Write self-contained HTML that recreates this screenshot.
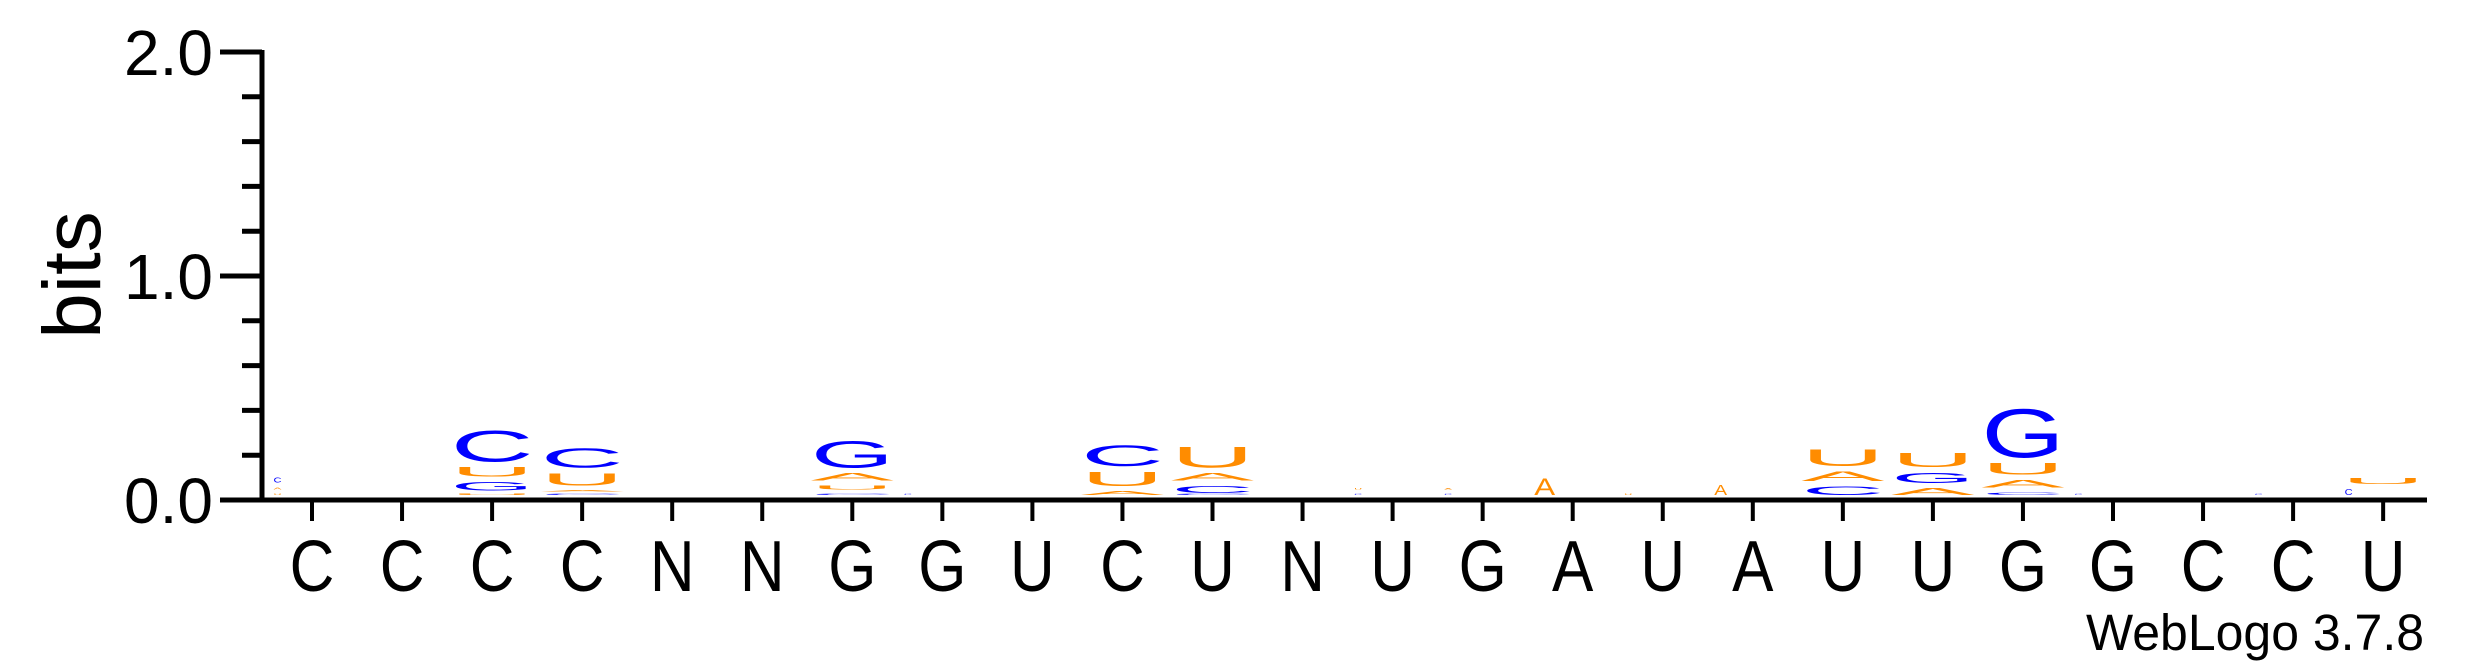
<!DOCTYPE html>
<html><head><meta charset="utf-8"><style>
html,body{margin:0;padding:0;background:#fff;}
svg{display:block;font-family:"Liberation Sans",sans-serif;}
</style></head><body>
<svg id="logo" width="2475" height="667" viewBox="0 0 2475 667" xmlns="http://www.w3.org/2000/svg">
<g id="axes"></g>
<g id="stacks"></g>
<text transform="translate(100,275) rotate(-90)" font-size="82" text-anchor="middle">bits</text>
<text x="2424" y="650" font-size="51" text-anchor="end" textLength="338" lengthAdjust="spacingAndGlyphs">WebLogo 3.7.8</text>
</svg>
<script>
const positions = ["C","C","C","C","N","N","G","G","U","C","U","N","U","G","A","U","A","U","U","G","G","C","C","U"];
// each stack bottom->top
const stackLetters = [
 ["U","A","C"],[],["U","G","U","C"],["C","A","U","C"],[],[],["C","U","A","G"],["C"],[],
 ["A","U","C"],["C","C","A","U"],[],["C","U"],["C","A"],["A"],["U"],["A"],
 ["C","A","U"],["A","G","U"],["C","A","U","G"],["C"],[],["C"],["C","U"]
];
const stackBits = [
 [0.025,0.03,0.045],[],[0.02,0.062,0.067,0.165],[0.015,0.027,0.08,0.11],[],[],[0.025,0.04,0.058,0.143],[0.02],[],
 [0.04,0.089,0.116],[0.01,0.054,0.058,0.116],[],[0.025,0.025],[0.025,0.025],[0.1],[0.02],[0.07],
 [0.062,0.067,0.1],[0.054,0.071,0.089],[0.033,0.058,0.076,0.245],[0.02],[],[0.02],[0.05,0.049]
];
const yTicks = [0,0.2,0.4,0.6,0.8,1.0,1.2,1.4,1.6,1.8,2.0];
const yLabels = ["0.0","1.0","2.0"];
const yLabelVals = [0,1,2];

const NS="http://www.w3.org/2000/svg";
const x0=312, dx=90.05, base=497.5, pxPerBit=224, colW=83, pad=2.5;
const narrowCols=[0,7,12,13,14,15,16,20,22];
const xScale=i=>x0+i*dx;
const colors={A:"#ff8c00",U:"#ff8c00",C:"#0000ff",G:"#0000ff"};
const gw={C:72.2,G:77.8,U:72.2,A:66.7};
const axes=document.getElementById('axes'), stacks=document.getElementById('stacks');
function mk(tag,attrs,parent){const e=document.createElementNS(NS,tag);for(const k in attrs)e.setAttribute(k,attrs[k]);parent.appendChild(e);return e;}
const yScale=v=>500-v*pxPerBit;

let l=mk('line',{x1:262,y1:yScale(2)-2,x2:262,y2:502.5,stroke:'#000','stroke-width':5},axes);


l=mk('line',{x1:220,y1:500,x2:2427,y2:500,stroke:'#000','stroke-width':5},axes);


yTicks.forEach(v=>{
  const major=Math.abs(v-Math.round(v))<1e-9;
  const t=mk('line',{x1:major?220:242,y1:yScale(v),x2:262,y2:yScale(v),stroke:'#000','stroke-width':5},axes);
  
  
});
yLabelVals.forEach((v,i)=>{
  const t=mk('text',{x:213,y:yScale(v)+23,'font-size':64,'text-anchor':'end'},axes);
  t.textContent=yLabels[i];
  
  
});
positions.forEach((p,i)=>{
  const x=xScale(i);
  const t=mk('line',{x1:x,y1:500,x2:x,y2:521,stroke:'#000','stroke-width':4},axes);
  
  
  const lab=mk('text',{transform:`translate(${x},591) scale(0.86,1)`,'font-size':72,'text-anchor':'middle'},axes);
  lab.textContent=p;
  
  
  let cum=0;
  stackLetters[i].forEach((L,j)=>{
    const box=stackBits[i][j]*pxPerBit;
    const yb=base-cum*pxPerBit;
    cum+=stackBits[i][j];
    const h=Math.max(box-2*pad,1.5);
    const sy=h/72;
    const narrow=narrowCols.includes(i) || (i===23 && j===0);
    let cx=x, sx=colW/gw[L];
    if(narrow){ const w=Math.min(colW,Math.max(8,h*1.2)); sx=w/gw[L]; cx=x-colW/2+w/2+3; }
    const g=mk('text',{transform:`translate(${cx},${yb-pad}) scale(${sx},${sy})`,'font-size':100,'text-anchor':'middle',fill:colors[L]},stacks);
    g.textContent=L;
    
    
  });
});
</script>
</body></html>
